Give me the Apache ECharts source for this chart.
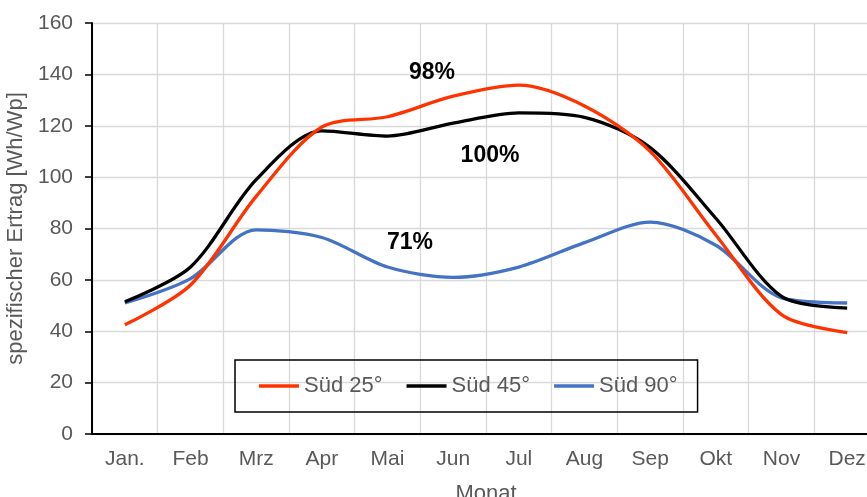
<!DOCTYPE html>
<html>
<head>
<meta charset="utf-8">
<script src="https://cdn.jsdelivr.net/npm/echarts@6/dist/echarts.min.js"></script>
<style>
html,body{margin:0;padding:0;background:#fff;}
#chart{width:867px;height:497px;}
</style>
</head>
<body>
<div id="chart"></div>
<script>
var months = ['Jan.', 'Feb', 'Mrz', 'Apr', 'Mai', 'Jun', 'Jul', 'Aug', 'Sep', 'Okt', 'Nov', 'Dez'];
var sued25 = [42.5, 58, 92.5, 119.5, 123.5, 131.5, 135.8, 127.7, 110, 77.5, 46.5, 39.5];
var sued45 = [51.5, 65, 99, 118, 116, 121, 125, 123.3, 111.5, 84, 53.6, 49];
var sued90 = [51, 60.5, 79.5, 76.5, 65, 61, 65, 74.5, 82.5, 73.5, 53, 51];
var seriesNames = ['Süd 25°', 'Süd 45°', 'Süd 90°'];
var seriesColors = ['#ff3300', '#000000', '#4472c4'];
var yTicks = {min: 0, max: 160, interval: 20};
var annotations = [
  {text: '98%', x: 432, y: 73},
  {text: '100%', x: 490, y: 156},
  {text: '71%', x: 410, y: 243}
];

var chart = echarts.init(document.getElementById('chart'), null, {renderer: 'canvas'});
var font = '"Liberation Sans", Arial, sans-serif';
var dataSets = [sued25, sued45, sued90];

var option = {
  backgroundColor: '#ffffff',
  animation: false,
  textStyle: {fontFamily: font},
  grid: {left: 92, top: 23, width: 788, height: 411, containLabel: false, outerBoundsMode: 'none'},
  legend: {
    left: 235, top: 360,
    padding: [15, 20, 15, 24],
    borderColor: '#000', borderWidth: 1.5,
    itemWidth: 40, itemHeight: 3.5, itemGap: 24,
    textStyle: {fontSize: 22, color: '#595959', fontFamily: font},
    data: seriesNames.map(function (n) { return {name: n, icon: 'rect'}; })
  },
  xAxis: {
    type: 'category',
    data: months,
    boundaryGap: true,
    name: 'Monat',
    nameLocation: 'middle',
    nameGap: 49,
    nameTextStyle: {fontSize: 22, color: '#595959', fontFamily: font},
    axisLine: {show: true, lineStyle: {color: '#000', width: 2}},
    axisTick: {show: false},
    axisLabel: {interval: 0, margin: 15, fontSize: 21, color: '#595959', fontFamily: font},
    splitLine: {show: true, interval: 0, lineStyle: {color: '#d9d9d9', width: 1.3}}
  },
  yAxis: {
    type: 'value',
    min: yTicks.min, max: yTicks.max, interval: yTicks.interval,
    name: 'spezifischer Ertrag [Wh/Wp]',
    nameLocation: 'middle',
    nameGap: 63,
    nameTextStyle: {fontSize: 22, color: '#595959', fontFamily: font},
    axisLine: {show: true, lineStyle: {color: '#000', width: 2}},
    axisTick: {show: true, length: 7, lineStyle: {color: '#000', width: 1.5}},
    axisLabel: {margin: 19, fontSize: 21, color: '#595959', fontFamily: font},
    splitLine: {show: true, lineStyle: {color: '#d9d9d9', width: 1.3}}
  },
  series: seriesNames.map(function (n, i) {
    return {
      name: n,
      type: 'line',
      data: dataSets[i],
      smooth: 0.3,
      symbol: 'none',
      lineStyle: {color: seriesColors[i], width: 3.3},
      itemStyle: {color: seriesColors[i]},
      z: 3 - i
    };
  }),
  graphic: annotations.map(function (a) {
    return {
      type: 'text',
      x: a.x, y: a.y,
      z: 100,
      style: {
        text: a.text,
        fill: '#000',
        font: 'bold 23px ' + font,
        textAlign: 'center',
        textVerticalAlign: 'middle'
      }
    };
  })
};
chart.setOption(option);
</script>
</body>
</html>
